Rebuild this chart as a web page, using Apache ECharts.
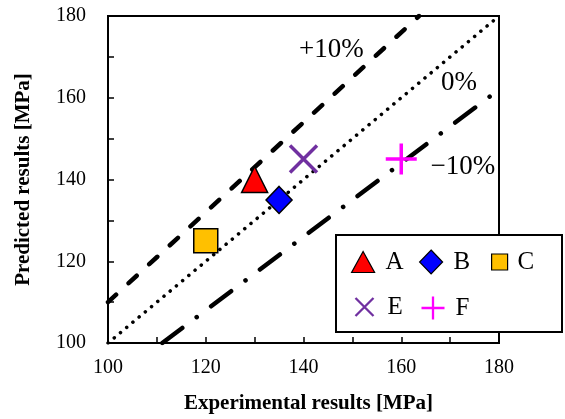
<!DOCTYPE html>
<html><head><meta charset="utf-8">
<script src="https://cdn.jsdelivr.net/npm/echarts@6/dist/echarts.min.js"></script>
<style>html,body{margin:0;padding:0;background:#fff}#c{width:565px;height:419px}</style>
</head><body><div id="c"></div>
<script>
// Data
const seriesNames = ['A', 'B', 'C', 'E', 'F'];
const experimental = [130, 135, 120, 140, 160];
const predicted = [140, 135, 125, 145, 145];
const plus10Line = [[100, 110], [163.64, 180]];
const zeroLine = [[100, 100], [180, 180]];
const minus10Line = [[111.11, 100], [180, 162]];
const lineLabels = ['+10%', '0%', '\u221210%'];
const lineLabelPos = [[145.7, 171.7], [171.8, 163.7], [172.6, 143]];
const xTicks = [100, 120, 140, 160, 180];
const yTicks = [100, 120, 140, 160, 180];

const font = '"Liberation Serif", "Times New Roman", serif';
const colors = ['#FF0000', '#0000FF', '#FFC000', '#7030A0', '#FF00FF'];
const symbols = ['triangle', 'diamond', 'rect', 'path://M0,0L10,10M10,0L0,10', 'path://M5,0L5,10M0,5L10,5'];
const sizes = [[26, 26], [26, 27], [24, 24], [27, 27], [31, 31]];

// legend layout per item: [left, top, iconW, iconH, textPadLeft]
const legendLayout = [
  [351, 249, 23, 21, 6],
  [419, 249, 23, 24, 6],
  [491, 249, 16, 16, 5],
  [353, 294, 18, 18, 9],
  [419, 294, 23, 23, 6]
];

const chart = echarts.init(document.getElementById('c'));
const series = [];
seriesNames.forEach((n, i) => {
  const isLine = i >= 3;
  series.push({
    name: n, type: 'scatter', z: 5,
    data: [[experimental[i], predicted[i]]],
    symbol: symbols[i], symbolSize: sizes[i],
    itemStyle: isLine ? { color: 'none', borderColor: colors[i], borderWidth: 3.5, opacity: 1 }
                      : { color: colors[i], borderColor: '#000', borderWidth: 1.5, opacity: 1 },
    emphasis: { disabled: true }
  });
});
series.push({ type: 'line', data: plus10Line, symbol: 'none', silent: true, z: 3,
  lineStyle: { color: '#000', width: 4.5, cap: 'round', type: [11, 17] } });
series.push({ type: 'line', data: zeroLine, symbol: 'none', silent: true, z: 3,
  lineStyle: { color: '#000', width: 3.5, cap: 'round', type: [0.1, 8] } });
series.push({ type: 'line', data: minus10Line, symbol: 'none', silent: true, z: 3,
  lineStyle: { color: '#000', width: 4.5, cap: 'round', type: [25, 18, 0.1, 18] } });
series.push({ type: 'scatter', symbol: 'circle', symbolSize: 1, silent: true, z: 6,
  itemStyle: { color: 'rgba(0,0,0,0)', opacity: 1 },
  data: lineLabelPos.map((p, i) => ({ value: p, label: { formatter: lineLabels[i] } })),
  label: { show: true, position: 'inside', color: '#000', fontFamily: font, fontSize: 27 } });

const legends = seriesNames.map((n, i) => {
  const L = legendLayout[i];
  const isLine = i >= 3;
  return {
    data: [n],
    left: L[0], top: L[1], padding: 0,
    itemWidth: L[2], itemHeight: L[3], selectedMode: false,
    itemStyle: isLine ? { borderWidth: 2.3 } : { borderWidth: 1.2 },
    textStyle: { fontFamily: font, fontSize: 25, lineHeight: 26, color: '#000', padding: [0, 0, 0, L[4]] }
  };
});

chart.setOption({
  animation: false,
  backgroundColor: '#fff',
  grid: { left: 108, top: 16, right: 66, bottom: 75, show: true, borderColor: '#000', borderWidth: 2, backgroundColor: 'transparent' },
  xAxis: {
    type: 'value', min: 100, max: 180, interval: 10,
    name: 'Experimental results [MPa]', nameLocation: 'middle', nameGap: 50,
    nameTextStyle: { fontFamily: font, fontWeight: 'bold', fontSize: 21, color: '#000', padding: [0, 0, 0, 10] },
    axisLine: { show: true, onZero: false, lineStyle: { color: '#000', width: 2 } },
    axisTick: { show: true, inside: true, length: 6, lineStyle: { color: '#000', width: 1.5 } },
    axisLabel: { fontFamily: font, fontSize: 20, color: '#000', margin: 15,
      formatter: v => (xTicks.indexOf(v) >= 0 ? String(v) : '') },
    splitLine: { show: false }
  },
  yAxis: {
    type: 'value', min: 100, max: 180, interval: 10,
    name: 'Predicted results [MPa]', nameLocation: 'middle', nameGap: 74,
    nameTextStyle: { fontFamily: font, fontWeight: 'bold', fontSize: 21, color: '#000' },
    axisLine: { show: true, onZero: false, lineStyle: { color: '#000', width: 2 } },
    axisTick: { show: true, inside: true, length: 6, lineStyle: { color: '#000', width: 1.5 } },
    axisLabel: { fontFamily: font, fontSize: 20, color: '#000', margin: 22,
      formatter: v => (yTicks.indexOf(v) >= 0 ? String(v) : '') },
    splitLine: { show: false }
  },
  legend: legends,
  graphic: [{ type: 'rect', z: 4, shape: { x: 336, y: 235, width: 226, height: 97 },
    style: { fill: '#fff', stroke: '#000', lineWidth: 2 } }],
  series: series
});
</script></body></html>
